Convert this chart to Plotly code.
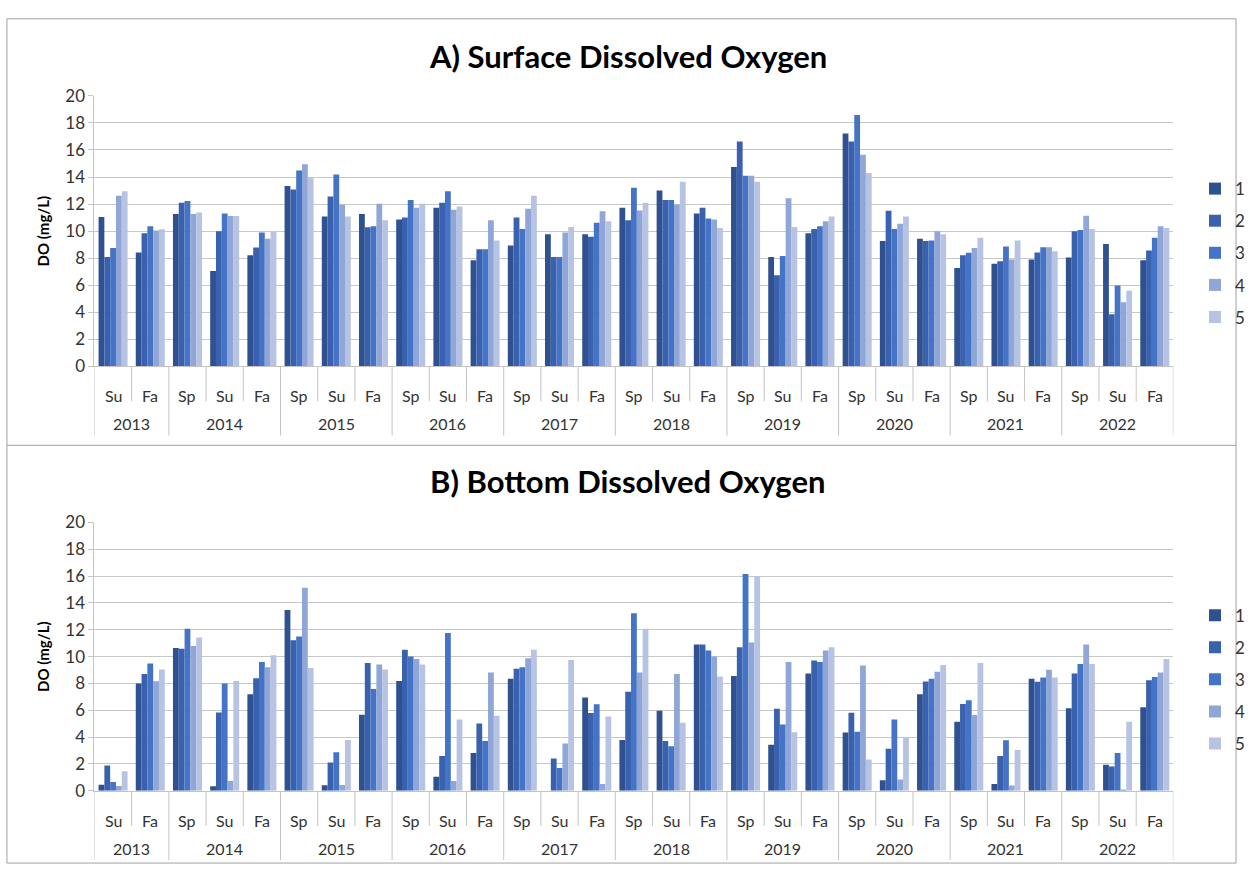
import plotly.graph_objects as go

# Sampling periods: year / season
years = ["2013", "2013",
         "2014", "2014", "2014",
         "2015", "2015", "2015",
         "2016", "2016", "2016",
         "2017", "2017", "2017",
         "2018", "2018", "2018",
         "2019", "2019", "2019",
         "2020", "2020", "2020",
         "2021", "2021", "2021",
         "2022", "2022", "2022"]
seasons = ["Su", "Fa"] + ["Sp", "Su", "Fa"] * 9

sites = ["1", "2", "3", "4", "5"]

# Surface dissolved oxygen (mg/L) per site
surf_1 = [11.05, 8.42, 11.26, 7.05, 8.21, 13.33, 11.07, 11.26, 10.85, 11.72, 7.85, 8.93, 9.77, 9.77, 11.72,
          13.0, 11.31, 14.75, 8.09, 9.84, 17.21, 9.27, 9.43, 7.27, 7.58, 7.89, 8.04, 9.05, 7.85]
surf_2 = [8.09, 9.84, 12.1, 9.99, 8.78, 13.07, 12.56, 10.28, 11.0, 12.1, 8.66, 11.0, 8.09, 9.58, 10.81,
          12.3, 11.72, 16.63, 6.74, 10.16, 16.63, 11.5, 9.27, 8.21, 7.77, 8.42, 9.99, 3.85, 8.57]
surf_3 = [8.74, 10.35, 12.23, 11.31, 9.89, 14.49, 14.18, 10.35, 12.3, 12.95, 8.66, 10.16, 8.09, 10.61, 13.21,
          12.3, 10.93, 14.1, 8.16, 10.35, 18.58, 10.16, 9.31, 8.4, 8.86, 8.81, 10.08, 5.97, 9.51]
surf_4 = [12.61, 10.04, 11.26, 11.12, 9.43, 14.95, 11.94, 12.03, 11.72, 11.58, 10.81, 11.65, 9.89, 11.46, 11.53,
          11.96, 10.85, 14.1, 12.42, 10.73, 15.64, 10.54, 9.99, 8.74, 7.89, 8.81, 11.14, 4.74, 10.35]
surf_5 = [12.95, 10.13, 11.38, 11.12, 9.99, 13.98, 11.07, 10.81, 12.03, 11.82, 9.31, 12.61, 10.3, 10.73, 12.1,
          13.65, 10.23, 13.65, 10.3, 11.07, 14.3, 11.07, 9.77, 9.51, 9.31, 8.5, 10.16, 5.58, 10.23]

# Bottom dissolved oxygen (mg/L) per site
bot_1 = [0.46, 8.0, 10.64, 0.34, 7.2, 13.48, 0.41, 5.67, 8.19, 1.04, 2.81, 8.36, None, 6.96, 3.78,
         5.96, 10.91, 8.56, 3.44, 8.75, 4.34, 0.78, 7.2, 5.14, 0.51, 8.36, 6.16, 1.94, 6.23]
bot_2 = [1.89, 8.7, 10.59, 5.84, 8.39, 11.22, 2.11, 9.53, 10.52, 2.59, 5.02, 9.09, 2.4, 5.79, 7.39,
         3.71, 10.91, 10.69, 6.11, 9.72, 5.82, 3.13, 8.15, 6.47, 2.59, 8.12, 8.75, 1.82, 8.24]
bot_3 = [0.65, 9.48, 12.07, 8.0, 9.6, 11.49, 2.88, 7.59, 10.01, 11.76, 3.71, 9.21, 1.7, 6.45, 13.24,
         3.32, 10.45, 16.15, 4.95, 9.6, 4.41, 5.31, 8.36, 6.74, 3.76, 8.44, 9.45, 2.81, 8.48]
bot_4 = [0.36, 8.17, 10.79, 0.73, 9.21, 15.13, 0.44, 9.41, 9.82, 0.73, 8.82, 9.87, 3.52, 0.51, 8.82,
         8.7, 10.01, 11.05, 9.6, 10.45, 9.33, 0.85, 8.87, 5.65, 0.39, 9.02, 10.91, 0.07, 8.82]
bot_5 = [1.45, 9.04, 11.42, 8.19, 10.11, 9.16, 3.78, 9.04, 9.41, 5.31, 5.6, 10.52, 9.75, 5.53, 12.07,
         5.07, 8.51, 16.0, 4.36, 10.69, 2.33, 3.98, 9.38, 9.53, 3.05, 8.44, 9.45, 5.14, 9.82]

colors = ["#2F5190", "#3A61AE", "#4573C6", "#8FA6D7", "#B7C3E3"]

W, H = 1250, 875
FONT = "Lato, 'Open Sans', sans-serif"
TXT = "#333333"
SEP = "#C4C4C4"

surface = [surf_1, surf_2, surf_3, surf_4, surf_5]
bottom = [bot_1, bot_2, bot_3, bot_4, bot_5]

# one category per sampling period
periods = [f"{y} {s}" for y, s in zip(years, seasons)]
n = len(periods)


def px_x(p):
    return p / W


def px_y(p):
    return 1 - p / H


fig = go.Figure()
for i, (name, vals) in enumerate(zip(sites, surface)):
    fig.add_trace(go.Bar(x=periods, y=vals, name=name, marker_color=colors[i], marker_line_width=0,
                         xaxis="x", yaxis="y", legend="legend", legendgroup="a" + name))
for i, (name, vals) in enumerate(zip(sites, bottom)):
    fig.add_trace(go.Bar(x=periods, y=vals, name=name, marker_color=colors[i], marker_line_width=0,
                         xaxis="x2", yaxis="y2", legend="legend2", legendgroup="b" + name))

annotations = []
shapes = []

# panels: (x axis id, axis baseline px, title, title centre px)
panels = [("x", 364, "A) Surface Dissolved Oxygen", 46),
          ("x2", 799, "B) Bottom Dissolved Oxygen", 482)]

for xref, base, title, ty in panels:
    annotations.append(dict(text=f"<b>{title}</b>", x=px_x(632), y=px_y(ty), xref="paper", yref="paper",
                            xanchor="center", yanchor="middle", showarrow=False,
                            font=dict(family=FONT, size=31, color="#000000")))
    # season labels
    for k, s in enumerate(seasons):
        annotations.append(dict(text=s, x=k, y=px_y(base + 30), xref=xref, yref="paper",
                                xanchor="center", yanchor="middle", showarrow=False,
                                font=dict(family=FONT, size=16, color=TXT)))
    # year labels centred on their seasons
    uniq = list(dict.fromkeys(years))
    for yv in uniq:
        idx = [k for k, y in enumerate(years) if y == yv]
        annotations.append(dict(text=yv, x=sum(idx) / len(idx), y=px_y(base + 59), xref=xref, yref="paper",
                                xanchor="center", yanchor="middle", showarrow=False,
                                font=dict(family=FONT, size=16, color=TXT)))
    # separators: short between seasons, long between years
    for k in range(n + 1):
        is_year = k == 0 or k == n or years[k] != years[k - 1]
        depth = 71 if is_year else 36
        shapes.append(dict(type="line", xref=xref, yref="paper", x0=k - 0.5, x1=k - 0.5,
                           y0=px_y(base), y1=px_y(base + depth), line=dict(color=SEP, width=1)))

# outer frame and panel divider
shapes.append(dict(type="rect", xref="paper", yref="paper", x0=px_x(7), x1=px_x(1243), y0=px_y(873),
                   y1=px_y(8), line=dict(color="#A0A0A0", width=1)))
shapes.append(dict(type="line", xref="paper", yref="paper", x0=px_x(7), x1=px_x(1243), y0=px_y(445),
                   y1=px_y(445), line=dict(color="#A0A0A0", width=1)))

xdom = [px_x(95), px_x(1180)]
xcommon = dict(type="category", domain=xdom, showline=True, linecolor=SEP, linewidth=1,
               showticklabels=False, ticks="", showgrid=False, zeroline=False, range=[-0.5, n - 0.5])
ycommon = dict(range=[0, 20], dtick=2, showgrid=True, gridcolor="#C8C8C8", gridwidth=1,
               showline=True, linecolor=SEP, ticks="outside", ticklen=5, tickcolor=SEP,
               tickfont=dict(family=FONT, size=17, color=TXT), zeroline=False,
               title=dict(text="<b>DO (mg/L)</b>", font=dict(family=FONT, size=15, color="#000000"),
                          standoff=12))

fig.update_layout(
    width=W, height=H, margin=dict(l=0, r=0, t=0, b=0),
    paper_bgcolor="white", plot_bgcolor="white",
    barmode="group", bargap=0.22, bargroupgap=0,
    xaxis=dict(xcommon, anchor="y"),
    yaxis=dict(ycommon, domain=[px_y(364), px_y(87)], anchor="x"),
    xaxis2=dict(xcommon, anchor="y2"),
    yaxis2=dict(ycommon, domain=[px_y(799), px_y(524)], anchor="x2"),
    legend=dict(x=px_x(1202), y=px_y(164), xanchor="left", yanchor="top", tracegroupgap=7,
                font=dict(family=FONT, size=17, color=TXT), bgcolor="rgba(0,0,0,0)"),
    legend2=dict(x=px_x(1202), y=px_y(601), xanchor="left", yanchor="top", tracegroupgap=7,
                 font=dict(family=FONT, size=17, color=TXT), bgcolor="rgba(0,0,0,0)"),
    annotations=annotations,
    shapes=shapes,
)

fig.write_html("out.html")
